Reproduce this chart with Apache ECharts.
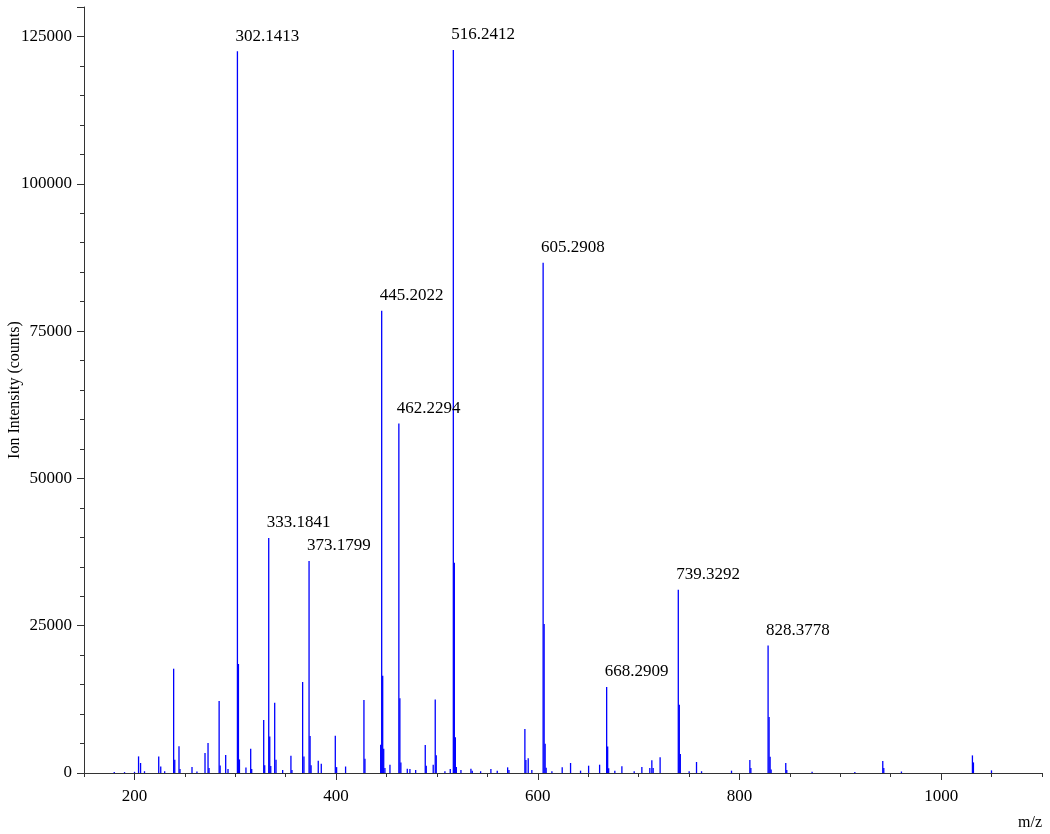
<!DOCTYPE html>
<html>
<head>
<meta charset="utf-8">
<script src="https://cdn.jsdelivr.net/npm/echarts@6/dist/echarts.min.js"></script>
<style>
html,body{margin:0;padding:0;background:#fff;}
#chart{width:1050px;height:834px;}
</style>
</head>
<body>
<div id="chart"></div>
<script>
// m/z of each peak
const mz = [
  180.0, 190.2, 200.1, 204.1, 206.1, 210.0, 224.1, 226.1, 230.0,
  238.9, 240.0, 244.2, 245.2, 257.1, 262.0, 270.0, 273.0, 274.0,
  284.0, 285.0, 290.5, 292.8, 302.1413, 303.14, 304.15, 310.6,
  315.3, 316.3, 328.2, 329.2, 333.1841, 334.19, 335.19, 339.1, 340.4,
  347.0, 355.2, 356.2, 366.8, 368.1, 373.1799, 374.18, 375.18,
  382.3, 385.3, 399.2, 400.5, 409.4, 427.6, 428.6, 444.2, 445.2022,
  446.2, 447.2, 448.4, 453.4, 462.2294, 463.23, 464.23, 470.6, 473.2,
  478.9, 488.4, 489.4, 496.3, 498.3, 499.3, 507.9, 513.2, 516.2412,
  517.24, 518.24, 519.24, 523.8, 533.7, 535.0, 543.3, 553.5, 559.8,
  570.1, 571.4, 587.2, 588.2, 590.5, 594.1, 605.2908, 606.29, 607.29,
  608.3, 614.0, 624.2, 632.5, 642.4, 650.4, 661.3, 668.2909, 669.29,
  670.3, 676.4, 683.4, 695.6, 703.2, 711.1, 713.1, 714.4, 721.3,
  739.3292, 740.33, 741.33, 750.1, 757.4, 762.4, 792.1, 810.3, 811.3,
  828.3778, 829.38, 830.38, 831.38, 845.9, 846.9, 872.0, 914.4,
  942.1, 943.1, 960.6, 1031.0, 1032.0, 1049.9
];
// ion intensity (counts) of each peak
const intensity = [
  150, 150, 200, 2820, 1700, 300, 2820, 1120, 300,
  17700, 2260, 4520, 700, 1020, 250, 3390, 5090, 850,
  12220, 1290, 3050, 700, 122500, 18500, 2300, 950,
  4120, 700, 8990, 1300, 39900, 6200, 1200, 11930, 2260,
  500, 2940, 500, 15440, 2820, 36000, 6300, 1300,
  2090, 1580, 6330, 1000, 1100, 12390, 2430, 4800, 78450,
  16500, 4100, 850, 1410, 59300, 12700, 1800, 730, 680,
  500, 4750, 1240, 1410, 12490, 3000, 300, 680, 122700,
  35700, 6050, 1000, 500, 730, 400, 300, 680, 400,
  960, 500, 7470, 2200, 2490, 500, 86600, 25300, 4970,
  900, 300, 960, 1700, 400, 1240, 1410, 14600, 4500,
  800, 400, 1130, 300, 1020, 850, 2150, 850, 2660,
  31100, 11600, 3220, 300, 1870, 300, 400, 2200, 850,
  21650, 9500, 2770, 600, 1700, 500, 200, 150,
  2040, 850, 250, 2990, 1800, 450
];
// annotated peaks
const labelMz = [302.1413, 333.1841, 373.1799, 445.2022, 462.2294,
                 516.2412, 605.2908, 668.2909, 739.3292, 828.3778];
// axis ticks
const xMajorTicks = [200, 400, 600, 800, 1000];

const FONT = '"Liberation Serif", "Times New Roman", serif';

const peakData = mz.map((m, i) => [m, intensity[i]]);
const labelData = labelMz.map(m => [m, intensity[mz.indexOf(m)], m.toFixed(4)]);

const chart = echarts.init(document.getElementById('chart'));
chart.setOption({
  animation: false,
  backgroundColor: '#fff',
  grid: {left: 84, right: 8, top: 7, bottom: 61, containLabel: false, outerBoundsMode: 'none'},
  xAxis: [{
    type: 'value', min: 150, max: 1100, interval: 50,
    name: 'm/z', nameLocation: 'end', nameGap: 0, nameMoveOverlap: false,
    nameTextStyle: {fontFamily: FONT, fontSize: 16, color: '#000', align: 'right', verticalAlign: 'top', padding: [42, 0, 0, 0]},
    axisLine: {show: true, lineStyle: {color: '#333', width: 1}},
    axisTick: {show: true, length: 4, lineStyle: {color: '#333'}},
    axisLabel: {show: true, fontFamily: FONT, fontSize: 17, color: '#000', margin: 15,
      formatter: v => (xMajorTicks.indexOf(v) >= 0 ? String(v) : '')},
    splitLine: {show: false}
  }, {
    type: 'value', min: 150, max: 1100, position: 'bottom',
    axisLine: {show: false},
    axisTick: {show: true, length: 7, customValues: xMajorTicks, lineStyle: {color: '#333'}},
    axisLabel: {show: false},
    splitLine: {show: false}
  }],
  yAxis: {
    type: 'value', min: 0, max: 130000, interval: 25000,
    name: 'Ion Intensity (counts)', nameLocation: 'middle', nameGap: 61, nameRotate: 90,
    nameMoveOverlap: false,
    nameTextStyle: {fontFamily: FONT, fontSize: 16, color: '#000'},
    axisLine: {show: true, lineStyle: {color: '#333', width: 1}},
    axisTick: {show: true, length: 7, lineStyle: {color: '#333'}},
    minorTick: {show: true, splitNumber: 5, length: 4, lineStyle: {color: '#333'}},
    axisLabel: {fontFamily: FONT, fontSize: 17, color: '#000', margin: 12, showMaxLabel: false,
      formatter: v => String(v)},
    splitLine: {show: false}
  },
  series: [{
    type: 'custom',
    xAxisIndex: 0,
    data: peakData,
    renderItem: function (params, api) {
      const x = api.value(0), y = api.value(1);
      const p0 = api.coord([x, 0]);
      const p1 = api.coord([x, y]);
      return {
        type: 'line',
        shape: {x1: p0[0], y1: p0[1], x2: p1[0], y2: p1[1]},
        style: {stroke: '#0000ff', lineWidth: 1.3}
      };
    }
  }, {
    type: 'custom',
    xAxisIndex: 0,
    data: labelData,
    renderItem: function (params, api) {
      const x = api.value(0), y = api.value(1);
      const p = api.coord([x, y]);
      return {
        type: 'text',
        x: p[0] - 2, y: p[1] - 15,
        style: {text: labelData[params.dataIndex][2], fill: '#000',
          font: '17px ' + FONT, textAlign: 'left', textVerticalAlign: 'middle'}
      };
    }
  }]
});
</script>
</body>
</html>
